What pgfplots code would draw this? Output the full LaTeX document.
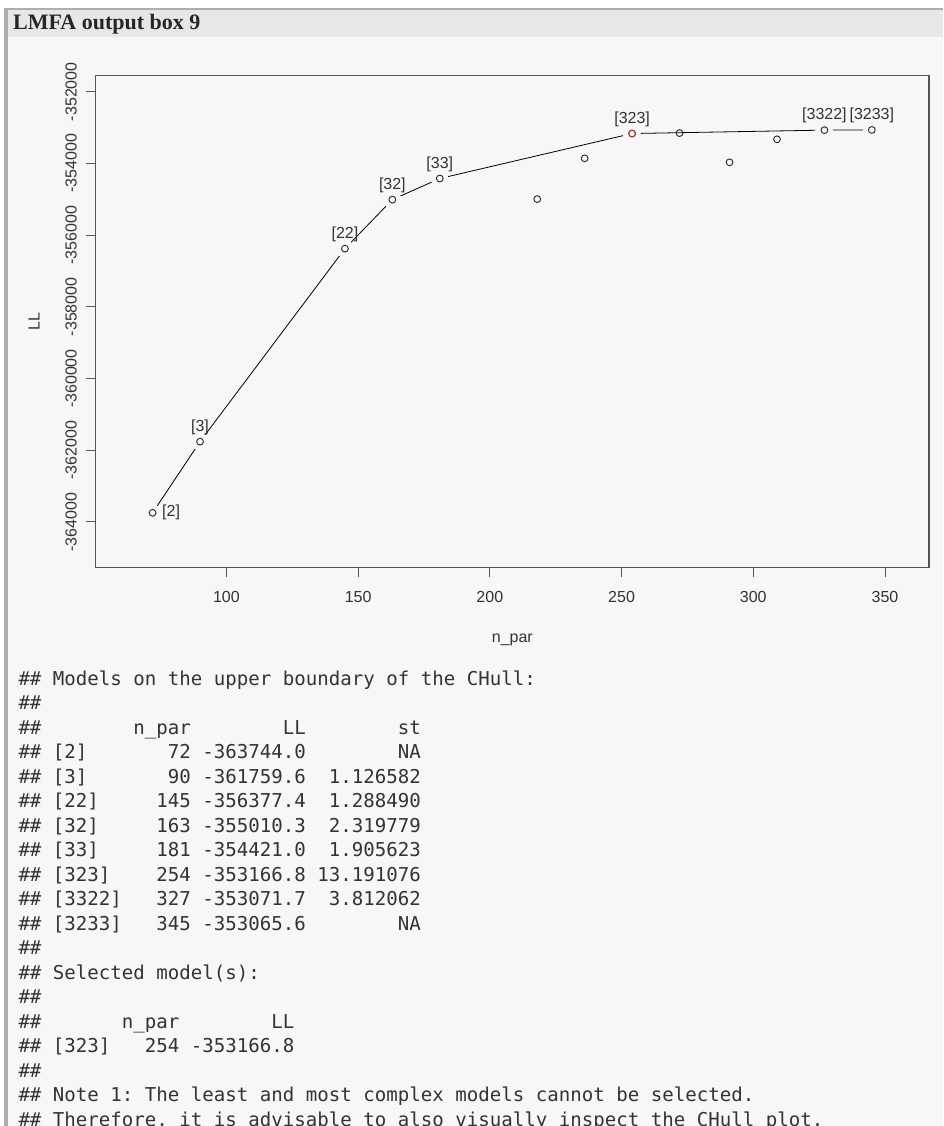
\documentclass[border=0pt]{standalone}
\usepackage{pgfplots}
\usepackage{pgfplotstable}
\pgfplotsset{compat=1.18}
\usepackage{fontspec}
\setmainfont{Liberation Sans}
\setmonofont{DejaVu Sans Mono}
\newfontfamily\headfont{Liberation Serif}
\definecolor{bodybg}{HTML}{F7F7F7}
\definecolor{headbg}{HTML}{E6E7E8}
\definecolor{bordercol}{HTML}{AEAEAE}
\definecolor{txt}{HTML}{333333}
\definecolor{axcol}{HTML}{555555}
\definecolor{selred}{HTML}{C0392B}

\pgfplotstableread{
npar LL
72 -363744.0
90 -361759.6
145 -356377.4
163 -355010.3
181 -354421.0
218 -354995
236 -353858
254 -353166.8
272 -353155
291 -353969
309 -353328
327 -353071.7
345 -353065.6
}\allpts

\pgfplotstableread{
npar LL
72 -363744.0
90 -361759.6
145 -356377.4
163 -355010.3
181 -354421.0
254 -353166.8
327 -353071.7
345 -353065.6
}\hullpts

\pgfplotstableread{
npar LL lab
90 -361759.6 3
145 -356377.4 22
163 -355010.3 32
181 -354421.0 33
254 -353166.8 323
327 -353071.7 3322
345 -353065.6 3233
}\labtop

\pgfplotstableread{
npar LL lab
72 -363744.0 2
}\labright

\newcommand\pf{\fontsize{16}{19}\selectfont}
\newcommand\mf{\ttfamily\fontsize{19.1}{23}\selectfont}

\begin{document}
\begin{tikzpicture}[x=1pt,y=1pt]
\useasboundingbox (0,-1126) rectangle (943,0);
\clip (0,-1126) rectangle (943,0);
\fill[white] (0,-1126) rectangle (943,0);
\fill[bodybg] (7.5,-1126) rectangle (943,-37);
\fill[headbg] (7.5,-37) rectangle (943,-10.5);
\fill[bordercol] (4,-10.5) rectangle (943,-8);
\fill[bordercol] (4,-1126) rectangle (7.5,-8);
\node[anchor=base west, inner sep=0, font=\headfont\bfseries\fontsize{22}{26}\selectfont, text=black!85] at (13,-30) {LMFA output box 9};

\begin{axis}[
  at={(95.7pt,-567.7pt)}, anchor=south west,
  scale only axis, width=833.3pt, height=492pt,
  xmin=50.4, xmax=366.7, ymin=-365275, ymax=-351554,
  scaled x ticks=false, scaled y ticks=false,
  axis line style={axcol, line width=1.1pt},
  tick style={axcol, line width=1pt},
  tick align=outside, major tick length=9.5pt,
  tick pos=left,
  xtick={100,150,200,250,300,350},
  xticklabels={100,150,200,250,300,350},
  ytick={-364000,-362000,-360000,-358000,-356000,-354000,-352000},
  yticklabels={-364000,-362000,-360000,-358000,-356000,-354000,-352000},
  ticklabel style={font=\pf, text=txt, inner sep=0pt},
  xticklabel style={anchor=center}, xticklabel shift=19.8pt,
  yticklabel style={rotate=90, anchor=center}, yticklabel shift=15.2pt,
  xlabel={n\_par}, ylabel={LL},
  label style={font=\pf, text=txt, inner sep=0pt},
  xlabel style={at={(axis description cs:0.5,-0.147)}, anchor=center},
  ylabel style={at={(axis description cs:-0.074,0.5)}, anchor=center},
  clip=false,
]
\addplot[draw=black, line width=0.8pt, mark=none] table[x=npar,y=LL]{\hullpts};
\addplot[only marks, draw=bodybg, fill=bodybg, mark=*, mark size=8.5pt, mark options={draw=bodybg, fill=bodybg, line width=0pt}] table[x=npar,y=LL]{\hullpts};
\addplot[only marks, mark=o, mark size=3.4pt, mark options={draw=black!85, line width=0.9pt}] table[x=npar,y=LL]{\allpts};
\addplot[only marks, mark=o, mark size=3.4pt, mark options={draw=selred, line width=0.9pt}] coordinates {(254,-353166.8)};
\addplot[draw=none, mark=none, point meta=explicit symbolic,
  nodes near coords={[\pgfplotspointmeta]},
  every node near coord/.append style={anchor=center, yshift=14.5pt, inner sep=0pt, font=\pf, text=txt}]
  table[x=npar,y=LL,meta=lab]{\labtop};
\addplot[draw=none, mark=none, point meta=explicit symbolic,
  nodes near coords={[\pgfplotspointmeta]},
  every node near coord/.append style={anchor=west, xshift=9.4pt, yshift=0pt, inner sep=0pt, font=\pf, text=txt}]
  table[x=npar,y=LL,meta=lab]{\labright};
\end{axis}

\begin{scope}[every node/.style={anchor=base west, inner sep=0, font=\mf, text=txt}]
\node at (18.3,-685) {\#\#~Models~on~the~upper~boundary~of~the~CHull:};
\node at (18.3,-709.5) {\#\#};
\node at (18.3,-734) {\#\#~~~~~~~~n\_par~~~~~~~~LL~~~~~~~~st};
\node at (18.3,-758.5) {\#\#~[2]~~~~~~~72~-363744.0~~~~~~~~NA};
\node at (18.3,-783) {\#\#~[3]~~~~~~~90~-361759.6~~1.126582};
\node at (18.3,-807.5) {\#\#~[22]~~~~~145~-356377.4~~1.288490};
\node at (18.3,-832) {\#\#~[32]~~~~~163~-355010.3~~2.319779};
\node at (18.3,-856.5) {\#\#~[33]~~~~~181~-354421.0~~1.905623};
\node at (18.3,-881) {\#\#~[323]~~~~254~-353166.8~13.191076};
\node at (18.3,-905.5) {\#\#~[3322]~~~327~-353071.7~~3.812062};
\node at (18.3,-930) {\#\#~[3233]~~~345~-353065.6~~~~~~~~NA};
\node at (18.3,-954.5) {\#\#};
\node at (18.3,-979) {\#\#~Selected~model(s):};
\node at (18.3,-1003.5) {\#\#};
\node at (18.3,-1028) {\#\#~~~~~~~n\_par~~~~~~~~LL};
\node at (18.3,-1052.5) {\#\#~[323]~~~254~-353166.8};
\node at (18.3,-1077) {\#\#};
\node at (18.3,-1101.5) {\#\#~Note~1:~The~least~and~most~complex~models~cannot~be~selected.};
\node at (18.3,-1126) {\#\#~Therefore,~it~is~advisable~to~also~visually~inspect~the~CHull~plot.};
\end{scope}
\end{tikzpicture}
\end{document}
